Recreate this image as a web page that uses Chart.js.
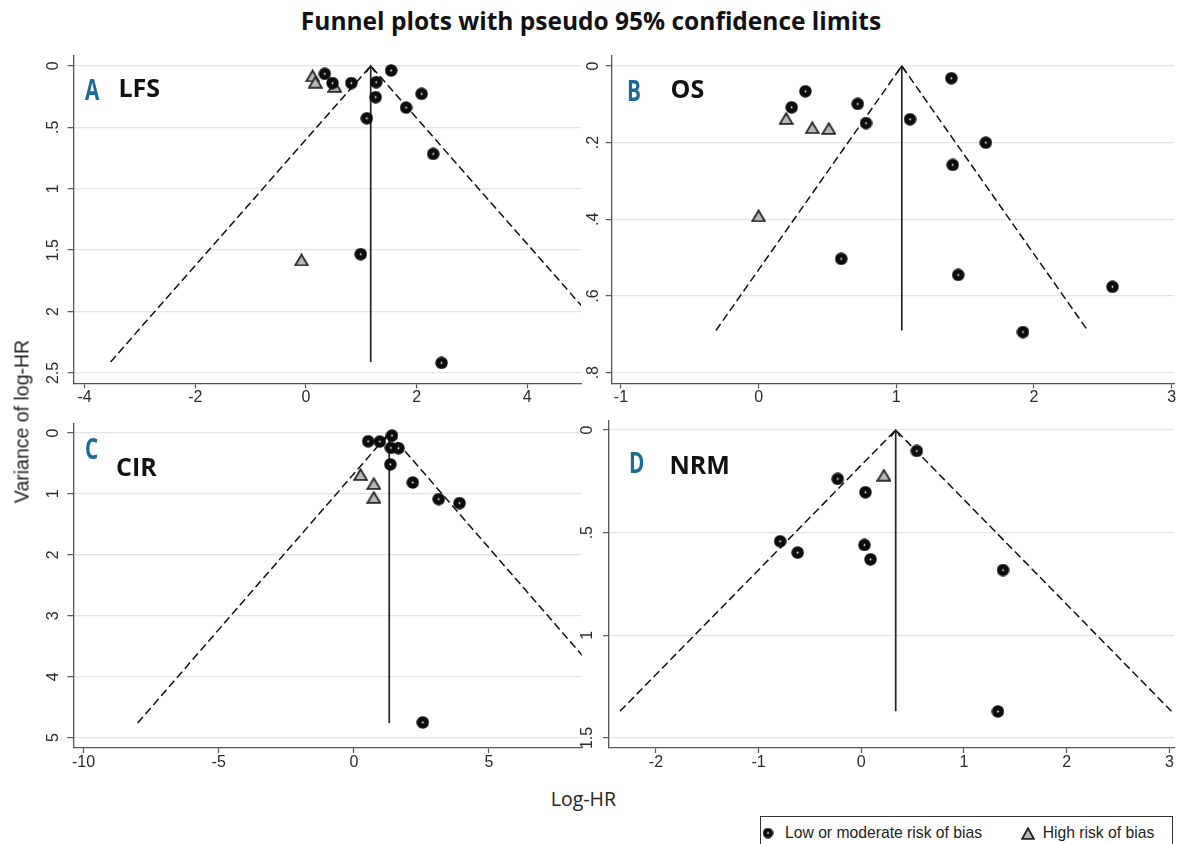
<!DOCTYPE html>
<html><head><meta charset="utf-8">
<script src="https://cdn.jsdelivr.net/npm/chart.js@4.4.1/dist/chart.umd.min.js"></script>
<style>
html,body{margin:0;padding:0;background:#fff;}
body{width:1182px;height:844px;position:relative;overflow:hidden;font-family:"Liberation Sans",Arial,sans-serif;}
canvas{position:absolute;}
.title{position:absolute;left:0;width:1182px;top:8.5px;text-align:center;font:700 24.5px/1 "Open Sans";color:#111;white-space:nowrap;}
.pname{position:absolute;font:700 25px/1 "Open Sans";color:#111;white-space:nowrap;}
.letter{position:absolute;font:700 28px/1 "Open Sans";color:#1d6a93;transform:scaleX(0.74);transform-origin:0 0;}
.ytitle{position:absolute;width:300px;height:23px;line-height:23px;left:-128.5px;top:409.5px;transform:rotate(-90deg);text-align:center;font-size:19.5px;color:#222;white-space:nowrap;}
.xtitle{position:absolute;width:200px;left:483.4px;top:788.5px;text-align:center;font:400 19.5px/1 "Open Sans";color:#222;}
.legend{position:absolute;left:760px;top:816px;width:413px;height:40px;border:1px solid #333;box-sizing:border-box;}
.ltext{position:absolute;top:825.2px;font-size:15.7px;line-height:1;color:#222;white-space:nowrap;}
</style>
</head>
<body>
<div class="title">Funnel plots with pseudo 95% confidence limits</div>

<canvas id="cA" width="570" height="385" style="left:20px;top:40px"></canvas>
<canvas id="cB" width="622" height="385" style="left:560px;top:40px"></canvas>
<canvas id="cC" width="570" height="380" style="left:20px;top:405px"></canvas>
<canvas id="cD" width="622" height="380" style="left:560px;top:405px"></canvas>

<div class="letter" style="left:85px;top:75px">A</div>
<div class="pname" style="left:118.5px;top:75px">LFS</div>
<div class="letter" style="left:627px;top:76px">B</div>
<div class="pname" style="left:670.5px;top:76.3px">OS</div>
<div class="letter" style="left:85px;top:434px">C</div>
<div class="pname" style="left:116px;top:454px">CIR</div>
<div class="letter" style="left:629px;top:448.3px">D</div>
<div class="pname" style="left:669.5px;top:452.3px">NRM</div>

<div class="ytitle">Variance of log-HR</div>
<div class="xtitle">Log-HR</div>

<div class="legend"></div>
<canvas id="legCircle" width="12" height="12" style="left:762.3px;top:827px"></canvas>
<div class="ltext" style="left:785px">Low or moderate risk of bias</div>
<canvas id="legTri" width="14" height="13" style="left:1021px;top:826.5px"></canvas>
<div class="ltext" style="left:1042.7px">High risk of bias</div>

<script>
// ---------------- DATA ----------------
// A: LFS
const lfsLowX  = [0.34, 0.48, 0.82, 1.54, 1.27, 1.26, 1.10, 2.09, 1.81, 2.30, 0.99, 2.45];
const lfsLowY  = [0.065, 0.14, 0.14, 0.038, 0.133, 0.255, 0.427, 0.228, 0.34, 0.717, 1.533, 2.418];
const lfsHighX = [0.12, 0.17, 0.52, -0.08];
const lfsHighY = [0.082, 0.133, 0.168, 1.58];
const lfsFunnel = [-3.53, 1.17, 5.87];   // lower limit, pooled log-HR, upper limit (at max depth)
const lfsDepth = 2.41;
const lfsXTicks = [-4, -2, 0, 2, 4];
const lfsYTicks = [0, 0.5, 1, 1.5, 2, 2.5];
const lfsYLabels = ['0', '.5', '1', '1.5', '2', '2.5'];

// B: OS
const osLowX  = [1.40, 0.34, 0.24, 0.72, 0.78, 1.10, 1.65, 1.41, 0.60, 1.45, 2.57, 1.92];
const osLowY  = [0.032, 0.066, 0.108, 0.099, 0.149, 0.139, 0.200, 0.258, 0.503, 0.545, 0.576, 0.694];
const osHighX = [0.20, 0.39, 0.51, 0.00];
const osHighY = [0.137, 0.161, 0.163, 0.391];
const osFunnel = [-0.31, 1.04, 2.39];
const osDepth = 0.69;
const osXTicks = [-1, 0, 1, 2, 3];
const osYTicks = [0, 0.2, 0.4, 0.6, 0.8];
const osYLabels = ['0', '.2', '.4', '.6', '.8'];

// C: CIR
const cirLowX  = [0.53, 0.96, 1.41, 1.37, 1.65, 1.35, 2.18, 3.14, 3.91, 2.55];
const cirLowY  = [0.136, 0.141, 0.043, 0.244, 0.249, 0.515, 0.813, 1.085, 1.15, 4.75];
const cirHighX = [0.25, 0.74, 0.74];
const cirHighY = [0.683, 0.83, 1.057];
const cirFunnel = [-8.0, 1.31, 10.62];
const cirDepth = 4.76;
const cirXTicks = [-10, -5, 0, 5];
const cirYTicks = [0, 1, 2, 3, 4, 5];
const cirYLabels = ['0', '1', '2', '3', '4', '5'];

// D: NRM
const nrmLowX  = [0.54, -0.23, 0.04, -0.79, -0.62, 0.03, 0.09, 1.38, 1.33];
const nrmLowY  = [0.102, 0.238, 0.303, 0.542, 0.597, 0.560, 0.630, 0.682, 1.371];
const nrmHighX = [0.22];
const nrmHighY = [0.220];
const nrmFunnel = [-2.35, 0.335, 3.02];
const nrmDepth = 1.37;
const nrmXTicks = [-2, -1, 0, 1, 2, 3];
const nrmYTicks = [0, 0.5, 1, 1.5];
const nrmYLabels = ['0', '.5', '1', '1.5'];

// ---------------- MARKERS ----------------
function circleMarker(d) {
  const c = document.createElement('canvas'); c.width = d; c.height = d;
  const g = c.getContext('2d');
  g.fillStyle = '#0c0c0c'; g.beginPath(); g.arc(d/2, d/2, d/2 - 0.3, 0, Math.PI*2); g.fill();
  g.fillStyle = '#ffffff'; g.beginPath(); g.arc(d/2, d/2, 0.9, 0, Math.PI*2); g.fill();
  return c;
}
function triMarker(w, h, c) {
  c = c || document.createElement('canvas'); c.width = w; c.height = h;
  const g = c.getContext('2d');
  g.beginPath(); g.moveTo(w/2, 1.2); g.lineTo(w - 1.2, h - 1.2); g.lineTo(1.2, h - 1.2); g.closePath();
  g.fillStyle = '#b8b8b8'; g.fill();
  g.lineWidth = 1.8; g.lineJoin = 'miter'; g.strokeStyle = '#262626'; g.stroke();
  return c;
}
const circleImg = circleMarker(13);
const triImg = triMarker(15, 13);

// legend markers
(function(){
  const lc = document.getElementById('legCircle').getContext('2d');
  lc.drawImage(circleMarker(11), 0.5, 0.5);
  triMarker(14, 13, document.getElementById('legTri'));
})();

function zip(xs, ys) { return xs.map((x, i) => ({x: x, y: ys[i]})); }

const arrowPlugin = {
  id: 'arrowHead',
  beforeDatasetsDraw(chart, args, opts) {
    const px = chart.scales.x.getPixelForValue(opts.center);
    const py = chart.scales.y.getPixelForValue(0);
    const ctx = chart.ctx;
    ctx.save();
    ctx.strokeStyle = '#222'; ctx.lineWidth = 1.5;
    ctx.beginPath(); ctx.moveTo(px - 4.5, py + 6.5); ctx.lineTo(px, py); ctx.lineTo(px + 4.5, py + 6.5); ctx.stroke();
    ctx.restore();
  }
};

const tickFont = {family: '"Liberation Sans", Arial, sans-serif', size: 16};

function makePanel(id, p) {
  new Chart(document.getElementById(id), {
    type: 'scatter',
    plugins: [arrowPlugin],
    data: {
      datasets: [
        {data: zip(p.lowX, p.lowY), pointStyle: circleImg, pointRadius: 6.5, order: 0},
        {data: zip(p.highX, p.highY), pointStyle: triImg, pointRadius: 7, order: 1},
        {data: [{x: p.funnel[1], y: 0}, {x: p.funnel[1], y: p.depth}], showLine: true,
         borderColor: '#222', borderWidth: 1.7, pointRadius: 0, order: 2},
        {data: [{x: p.funnel[0], y: p.depth}, {x: p.funnel[1], y: 0}, {x: p.funnel[2], y: p.depth}], showLine: true,
         borderColor: '#111', borderWidth: 1.5, borderDash: [8, 4], pointRadius: 0, order: 3}
      ]
    },
    options: {
      responsive: false, animation: false, devicePixelRatio: 1, events: [],
      layout: {padding: {left: 0, top: 16, right: p.padR, bottom: 0}},
      plugins: {legend: {display: false}, tooltip: {enabled: false}, arrowHead: {center: p.funnel[1]}},
      scales: {
        x: {
          type: 'linear', position: 'bottom', min: p.xMin, max: p.xMax,
          afterBuildTicks: s => { s.ticks = p.xTicks.map(v => ({value: v})); },
          afterFit: s => { s.height = p.xH; },
          grid: {drawOnChartArea: false, drawTicks: true, tickLength: 5, tickColor: '#555', tickWidth: 1.2},
          border: {display: true, color: '#555', width: 1.3},
          ticks: {font: tickFont, color: '#2b2b2b', padding: 0, maxRotation: 0, minRotation: 0, autoSkip: false,
                  callback: (v, i) => String(p.xTicks[i])}
        },
        y: {
          type: 'linear', position: 'left', reverse: true, min: p.yMin, max: p.yMax,
          afterBuildTicks: s => { s.ticks = p.yTicks.map(v => ({value: v})); },
          afterFit: s => { s.width = p.yW; },
          grid: {color: '#e4e4e4', lineWidth: 1.3, drawTicks: true, tickLength: 6, tickColor: '#555', tickWidth: 1.2},
          border: {display: true, color: '#555', width: 1.3},
          ticks: {font: tickFont, color: '#2b2b2b', padding: p.yPad, minRotation: 90, maxRotation: 90,
                  crossAlign: 'center', autoSkip: false, callback: (v, i) => p.yLabels[i]}
        }
      }
    }
  });
}

makePanel('cA', {lowX: lfsLowX, lowY: lfsLowY, highX: lfsHighX, highY: lfsHighY, funnel: lfsFunnel, depth: lfsDepth,
  xTicks: lfsXTicks, yTicks: lfsYTicks, yLabels: lfsYLabels,
  xMin: -4.20, xMax: 4.97, yMin: -0.08, yMax: 2.584, yW: 53.5, padR: 9, xH: 41.7, yPad: 2.9});
makePanel('cB', {lowX: osLowX, lowY: osLowY, highX: osHighX, highY: osHighY, funnel: osFunnel, depth: osDepth,
  xTicks: osXTicks, yTicks: osYTicks, yLabels: osYLabels,
  xMin: -1.067, xMax: 3.017, yMin: -0.026, yMax: 0.8277, yW: 51.7, padR: 8, xH: 41.7, yPad: 5.7});
makePanel('cC', {lowX: cirLowX, lowY: cirLowY, highX: cirHighX, highY: cirHighY, funnel: cirFunnel, depth: cirDepth,
  xTicks: cirXTicks, yTicks: cirYTicks, yLabels: cirYLabels,
  xMin: -10.38, xMax: 8.43, yMin: -0.146, yMax: 5.17, yW: 53.3, padR: 8.3, xH: 37, yPad: 9.5});
makePanel('cD', {lowX: nrmLowX, lowY: nrmLowY, highX: nrmHighX, highY: nrmHighY, funnel: nrmFunnel, depth: nrmDepth,
  xTicks: nrmXTicks, yTicks: nrmYTicks, yLabels: nrmYLabels,
  xMin: -2.457, xMax: 3.045, yMin: -0.044, yMax: 1.549, yW: 49, padR: 8, xH: 37, yPad: 4.4});
</script>
</body></html>
